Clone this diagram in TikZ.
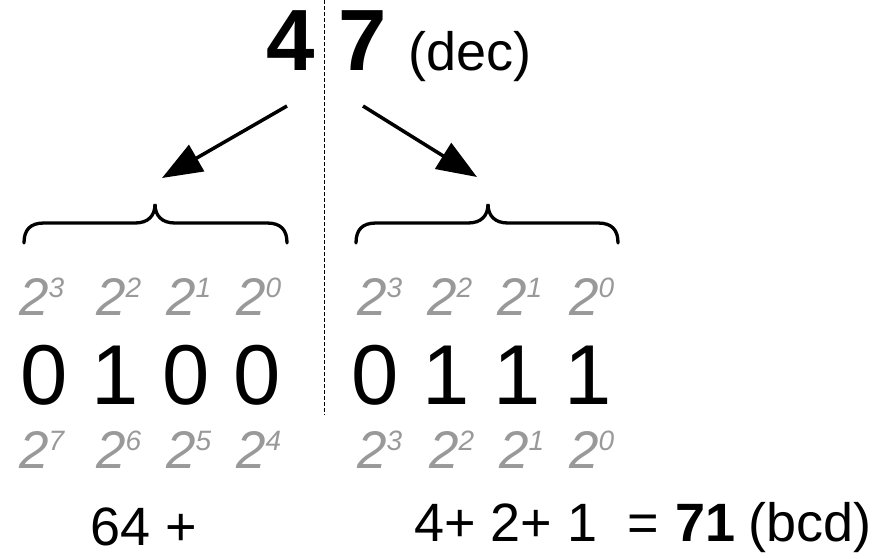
\documentclass[tikz,border=0pt]{standalone}
\usepackage{fontspec}
\setmainfont{Liberation Sans}
\usetikzlibrary{arrows.meta}
\definecolor{powgray}{RGB}{153,153,153}
\tikzset{
  txt/.style={inner sep=0pt, anchor=base west},
  pow/.style={txt, text=powgray, font=\fontsize{53}{53}\selectfont\itshape},
  bits/.style={txt, font=\fontsize{85}{85}\selectfont},
  big/.style={txt, font=\fontsize{87}{87}\selectfont\bfseries},
  mid/.style={txt, font=\fontsize{54}{54}\selectfont},
  arr/.style={line width=3.5pt, -{Triangle[length=40pt,width=30pt]}},
  brc/.style={line width=3.3pt, line cap=round},
  sepline/.style={line width=1pt, dash pattern=on 4pt off 2pt}
}
\newcommand{\pw}[1]{2\raisebox{18pt}{\fontsize{28}{28}\selectfont #1}}
\begin{document}
\begin{tikzpicture}[x=1pt,y=-1pt]
\useasboundingbox (0,0) rectangle (877,558);
% separator
\coordinate (st) at (324,0);
\coordinate (sb) at (324,415);
\draw[sepline] (st) -- (sb);
% decimal number
\node[big] (d4) at (266,70) {4};
\node[big] (d7) at (338,70) {7};
\node[mid] (dec) at (408,70) {(dec)};
% arrows
\coordinate (la) at (287,106);
\coordinate (lb) at (162,178);
\coordinate (ra) at (363,106);
\coordinate (rb) at (477,177);
\draw[arr] (la) -- (lb);
\draw[arr] (ra) -- (rb);
% braces
\draw[brc] (24,243) .. controls (24,230) and (30,223) .. (44,223) -- (135,223)
  .. controls (148,223) and (155,216) .. (155,204)
  .. controls (155,216) and (162,223) .. (175,223) -- (267,223)
  .. controls (281,223) and (287,230) .. (287,243);
\draw[brc] (356,243) .. controls (356,230) and (362,223) .. (376,223) -- (468,223)
  .. controls (481,223) and (488,216) .. (488,204)
  .. controls (488,216) and (495,223) .. (508,223) -- (598,223)
  .. controls (612,223) and (618,230) .. (618,243);
% powers, top rows
\foreach \x/\e [count=\i] in {19/3,96/2,166/1,236/0}
  \node[pow] (tl\i) at (\x,315) {\pw{\e}};
\foreach \x/\e [count=\i] in {357/3,427/2,497/1,569/0}
  \node[pow] (tr\i) at (\x,315) {\pw{\e}};
% binary digits
\node[bits] (bl) at (20.5,404) {0 1 0 0};
\node[bits] (br) at (351.5,404) {0 1 1 1};
% powers, bottom rows
\foreach \x/\e [count=\i] in {19/7,96/6,166/5,236/4}
  \node[pow] (bl\i) at (\x,468) {\pw{\e}};
\foreach \x/\e [count=\i] in {357/3,429/2,499/1,569/0}
  \node[pow] (brr\i) at (\x,468) {\pw{\e}};
% sums
\node[mid] (s1) at (90,545) {64 +};
\node[mid] (s2) at (414,541) {4+ 2+ 1};
\node[mid] (s3) at (627,541) {=};
\node[mid] (s4) at (675,541) {\textbf{71}};
\node[mid] (s5) at (748,541) {(bcd)};
\end{tikzpicture}
\end{document}
